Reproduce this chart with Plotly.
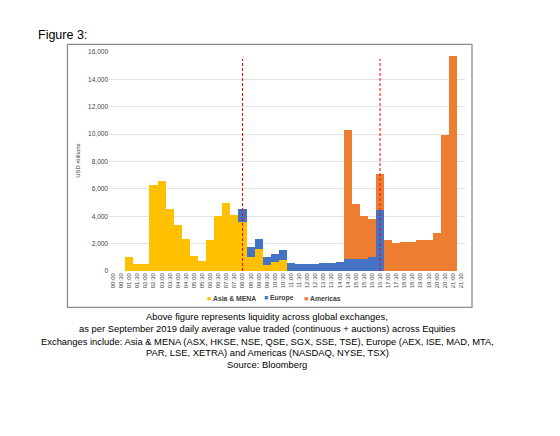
import plotly.graph_objects as go

times = [f"{h:02d}:{m:02d}" for h in range(22) for m in (0, 30)]

asia = [0, 0, 1000, 480, 480, 6280, 6550, 4550, 3350, 2350, 1100, 750,
        2300, 4050, 5000, 4100, 3550, 1020, 1640, 450, 650, 800,
        0, 0, 0, 0, 0, 0, 0, 0, 0, 0, 0, 0, 0, 0, 0, 0, 0, 0, 0, 0, 0, 0]
europe = [0] * 16 + [1000, 730, 680, 550, 600, 700, 600, 510, 510, 540, 580, 580,
                     680, 850, 880, 900, 1020, 4440] + [0] * 10
americas = [0] * 29 + [9440, 4000, 3120, 2810, 2630, 2240, 2070, 2120, 2100,
                       2290, 2290, 2800, 9930, 15700, 0]

marker_times = ["08:00", "16:30"]
marker_top = 15500

series_names = ["Asia & MENA", "Europe", "Americas"]
colors = ["#FFC000", "#4472C4", "#ED7D31"]

y_ticks = [0, 2000, 4000, 6000, 8000, 10000, 12000, 14000, 16000]

caption_lines = [
    "Above figure represents liquidity across global exchanges,",
    "as per September 2019 daily average value traded (continuous + auctions) across Equities",
    "Exchanges include: Asia & MENA (ASX, HKSE, NSE, QSE, SGX, SSE, TSE), Europe (AEX, ISE, MAD, MTA,",
    "PAR, LSE, XETRA) and Americas (NASDAQ, NYSE, TSX)",
    "Source: Bloomberg",
]

OFF = 8  # page body margin
W, H = 560, 436
L, R = 108.6 - OFF, 465.0 - OFF
T, B = 51.7 - OFF, 270.7 - OFF


def px(xp):
    return (xp - OFF - L) / (R - L)


def py(yp):
    return (B - (yp - OFF)) / (B - T)


fig = go.Figure()
for name, vals, col in zip(series_names, [asia, europe, americas], colors):
    fig.add_trace(go.Bar(x=times, y=vals, name=name, marker_color=col,
                         marker_line_width=0, showlegend=False))

for t in marker_times:
    fig.add_trace(go.Scatter(x=[t, t], y=[0, marker_top], mode="lines",
                             line=dict(color="#FF0000", width=1, dash="3px,2px"),
                             showlegend=False, hoverinfo="skip"))

font = "Liberation Sans, Arial, sans-serif"

annotations = [
    dict(text="Figure 3:", x=px(36), y=py(34.5), xanchor="left", yanchor="middle",
         font=dict(family=font, size=12.5, color="#000000")),
    dict(text="USD millions", x=px(78), y=py(160), textangle=-90,
         xanchor="center", yanchor="middle",
         font=dict(family=font, size=6, color="#404040")),
]
leg_x = [206, 263, 303]
for name, col, lx in zip(series_names, colors, leg_x):
    annotations.append(dict(
        text=f'<span style="color:{col}">■</span> <b>{name}</b>',
        x=px(lx - 1), y=py(298), xanchor="left", yanchor="middle",
        font=dict(family=font, size=6.8, color="#404040")))
cap_y = [316, 328.5, 340.7, 352.7, 364.3]
for line, yy in zip(caption_lines, cap_y):
    annotations.append(dict(text=line, x=px(267), y=py(yy), xanchor="center",
                            yanchor="middle",
                            font=dict(family=font, size=9.4, color="#000000")))
for a in annotations:
    a.update(xref="paper", yref="paper", showarrow=False)

fig.update_layout(
    width=W, height=H,
    margin=dict(l=L, r=W - R, t=T, b=H - B),
    paper_bgcolor="white", plot_bgcolor="white",
    barmode="stack", bargap=0,
    font=dict(family=font),
    annotations=annotations,
    shapes=[dict(type="rect", xref="paper", yref="paper",
                 x0=px(67), x1=px(472), y0=py(307), y1=py(44),
                 line=dict(color="#8c8c8c", width=1.3), layer="below")],
    xaxis=dict(type="category", tickmode="array", tickvals=times, ticktext=times,
               tickangle=-90, tickfont=dict(size=6, color="#404040"),
               showgrid=False, showline=False, zeroline=False, ticks=""),
    yaxis=dict(range=[0, 16000], tickvals=y_ticks, tickformat=",",
               tickfont=dict(size=6.5, color="#404040"),
               showgrid=True, gridcolor="#e3e3e3", gridwidth=0.8,
               zeroline=False, showline=False, ticks=""),
)

fig.write_html("out.html")
